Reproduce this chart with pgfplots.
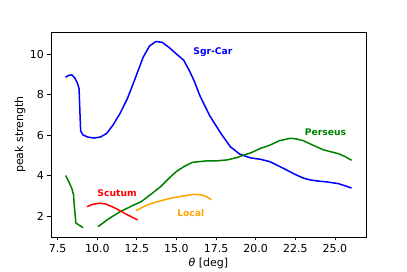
\documentclass[border=0pt]{standalone}
\usepackage{pgfplots}
\pgfplotsset{compat=1.18}
\usepackage{fontspec}
\setmainfont{DejaVu Sans}
\definecolor{mplgreen}{RGB}{0,128,0}
\definecolor{mplorange}{RGB}{255,165,0}
\begin{document}
\begin{tikzpicture}
\begin{axis}[name=ax,
  scale only axis, width=315pt, height=205pt,
  xmin=7.08, xmax=26.96, ymin=0.96, ymax=11.09,
  xtick={7.5,10,12.5,15,17.5,20,22.5,25},
  ytick={2,4,6,8,10},
  xticklabel style={/pgf/number format/.cd,fixed,fixed zerofill,precision=1},
  /pgf/number format/assume math mode=true,
  tick align=outside, tick pos=left,
  major tick length=3.5pt,
  tick style={black, line width=0.8pt},
  axis line style={line width=0.8pt},
  ticklabel style={font=\fontsize{11}{13}\selectfont},
  label style={font=\fontsize{11}{13}\selectfont},
  xlabel={{\itshape θ} [deg]},
  ylabel={peak strength},
  xlabel style={at={(axis description cs:0.5,0)}, anchor=center, yshift=-26pt},
  ylabel style={at={(axis description cs:0,0.5)}, anchor=center, yshift=31pt},
  every axis plot/.append style={line width=1.5pt, line join=round},
  clip=false,
]
\addplot[blue] coordinates {
(8.0,8.85) (8.2,8.95) (8.4,8.97) (8.6,8.8) (8.75,8.55) (8.85,8.3) (8.95,6.2) (9.1,6.0) (9.4,5.9) (9.8,5.85) (10.2,5.9) (10.6,6.08) (11.0,6.5) (11.44,7.07) (11.9,7.8) (12.3,8.6) (12.9,9.85) (13.3,10.4) (13.7,10.62) (14.1,10.58) (14.6,10.28) (15.0,10.0) (15.45,9.7) (15.8,9.2) (16.1,8.7) (16.5,7.9) (17.1,6.95) (17.8,6.08) (18.4,5.42) (19.0,5.05) (19.67,4.87) (20.3,4.8) (20.9,4.68) (21.5,4.45) (22.0,4.25) (22.5,4.05) (23.0,3.87) (23.5,3.77) (24.0,3.72) (24.5,3.68) (25.2,3.6) (25.6,3.5) (26.05,3.38)
};
\addplot[mplgreen] coordinates {
(8.0,4.0) (8.2,3.7) (8.4,3.35) (8.5,3.05) (8.55,2.5) (8.65,1.65) (9.1,1.42)
};
\addplot[mplgreen] coordinates {
(10.05,1.47) (10.7,1.85) (11.44,2.21) (12.2,2.5) (12.8,2.72) (13.34,3.04) (14.0,3.45) (14.6,3.92) (15.0,4.2) (15.45,4.43) (16.0,4.65) (16.9,4.72) (17.5,4.72) (18.2,4.77) (18.8,4.88) (19.25,5.01) (19.7,5.12) (20.3,5.34) (20.9,5.5) (21.5,5.72) (22.2,5.84) (22.6,5.8) (23.0,5.72) (23.6,5.5) (24.3,5.26) (25.2,5.08) (25.6,4.95) (26.05,4.75)
};
\addplot[red] coordinates {
(9.35,2.46) (9.7,2.57) (10.15,2.63) (10.5,2.6) (10.9,2.47) (11.3,2.32) (11.65,2.16) (12.1,1.98) (12.55,1.8)
};
\addplot[mplorange] coordinates {
(12.45,2.26) (12.9,2.45) (13.34,2.6) (14.0,2.75) (14.6,2.87) (15.3,2.97) (16.1,3.07) (16.6,3.04) (16.9,2.95) (17.2,2.8)
};
\node[text=blue, font=\bfseries\fontsize{9.2}{11}\selectfont] at (axis cs:17.3,10.12) {Sgr-Car};
\node[text=mplgreen, font=\bfseries\fontsize{9.2}{11}\selectfont] at (axis cs:24.4,6.13) {Perseus};
\node[text=red, font=\bfseries\fontsize{9.2}{11}\selectfont] at (axis cs:11.25,3.15) {Scutum};
\node[text=mplorange, font=\bfseries\fontsize{9.2}{11}\selectfont] at (axis cs:15.9,2.16) {Local};
\end{axis}
\path[use as bounding box] ([xshift=-51pt,yshift=-34pt]ax.south west) rectangle ([xshift=41pt,yshift=32pt]ax.north east);
\end{tikzpicture}
\end{document}
